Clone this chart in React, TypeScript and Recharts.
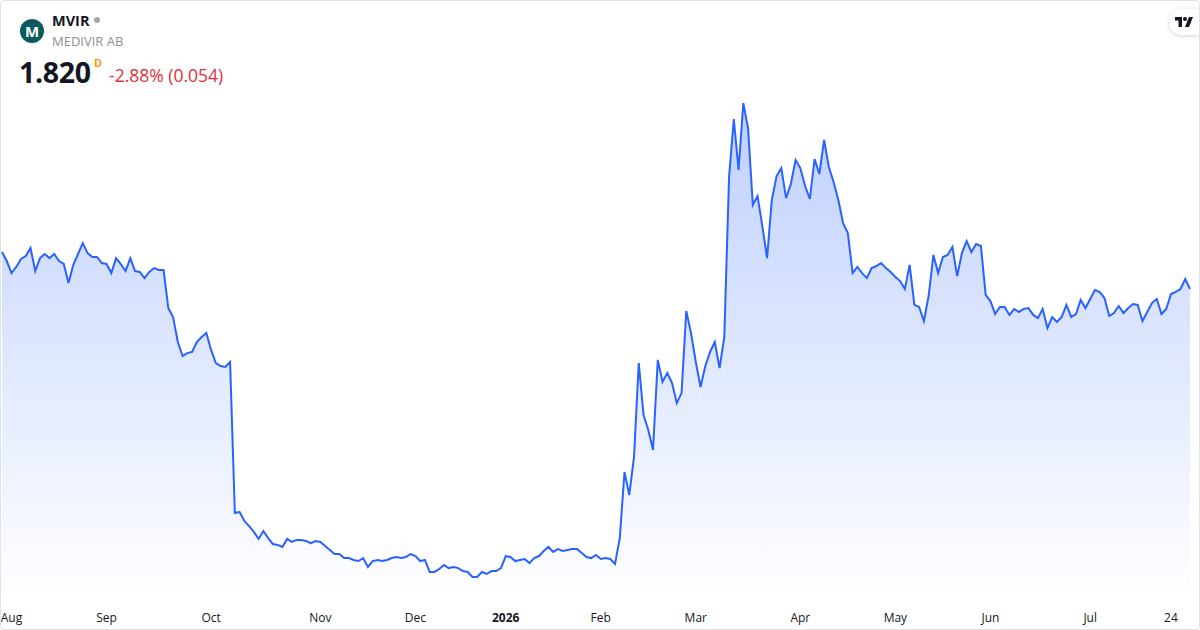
import React from 'react';
import { AreaChart, Area, XAxis, YAxis } from 'recharts';

// daily closes, MVIR (SEK), Aug 2025 → 24 Jul 2026
const closes = [
  2.020, 1.971, 1.906, 1.939, 1.982, 1.998, 2.041, 1.917, 1.987, 2.009,
  1.987, 2.009, 1.971, 1.955, 1.852, 1.950, 2.009, 2.068, 2.014, 1.993,
  1.993, 1.960, 1.955, 1.906, 1.987, 1.955, 1.917, 1.987, 1.917, 1.912,
  1.879, 1.912, 1.933, 1.923, 1.923, 1.717, 1.669, 1.534, 1.458, 1.474,
  1.480, 1.534, 1.561, 1.582, 1.491, 1.420, 1.404, 1.399, 1.426, 0.610,
  0.616, 0.567, 0.540, 0.508, 0.470, 0.513, 0.475, 0.443, 0.438, 0.427,
  0.470, 0.454, 0.465, 0.465, 0.459, 0.448, 0.459, 0.454, 0.432, 0.411,
  0.389, 0.389, 0.367, 0.367, 0.357, 0.351, 0.367, 0.319, 0.351, 0.357,
  0.351, 0.357, 0.367, 0.373, 0.367, 0.373, 0.389, 0.378, 0.351, 0.357,
  0.292, 0.292, 0.308, 0.330, 0.313, 0.319, 0.313, 0.297, 0.292, 0.265,
  0.265, 0.292, 0.281, 0.297, 0.297, 0.313, 0.378, 0.373, 0.351, 0.357,
  0.362, 0.340, 0.367, 0.378, 0.405, 0.427, 0.400, 0.416, 0.405, 0.411,
  0.416, 0.416, 0.394, 0.373, 0.367, 0.384, 0.362, 0.367, 0.362, 0.335,
  0.475, 0.832, 0.708, 0.913, 1.420, 1.140, 1.059, 0.951, 1.437, 1.318,
  1.366, 1.312, 1.204, 1.258, 1.701, 1.582, 1.426, 1.291, 1.404, 1.480,
  1.534, 1.393, 1.561, 2.425, 2.738, 2.463, 2.824, 2.689, 2.274, 2.322,
  2.160, 1.987, 2.301, 2.430, 2.473, 2.311, 2.387, 2.517, 2.473, 2.376,
  2.306, 2.522, 2.441, 2.625, 2.479, 2.398, 2.301, 2.176, 2.122, 1.906,
  1.939, 1.906, 1.879, 1.933, 1.944, 1.960, 1.933, 1.912, 1.885, 1.863,
  1.820, 1.950, 1.734, 1.723, 1.647, 1.782, 2.004, 1.906, 1.993, 2.004,
  2.047, 1.890, 2.014, 2.079, 2.020, 2.063, 2.052, 1.788, 1.755, 1.685,
  1.723, 1.723, 1.680, 1.712, 1.696, 1.712, 1.717, 1.680, 1.663, 1.712,
  1.609, 1.669, 1.642, 1.669, 1.734, 1.669, 1.685, 1.761, 1.717, 1.766,
  1.815, 1.804, 1.771, 1.674, 1.690, 1.728, 1.690, 1.717, 1.739, 1.734,
  1.647, 1.696, 1.744, 1.766, 1.685, 1.712, 1.793, 1.804, 1.820, 1.874,
  1.820,
];

// first trading day of each month (index into closes) and its label
const tickIdx = [2, 22, 44, 67, 87, 106, 126, 146, 168, 188, 208, 229, 246];
const tickLabels = ['Aug', 'Sep', 'Oct', 'Nov', 'Dec', '2026', 'Feb', 'Mar', 'Apr', 'May', 'Jun', 'Jul', '24'];
const boldTicks = ['2026'];

const symbol = 'MVIR';
const company = 'MEDIVIR AB';
const lastPrice = '1.820';
const change = '-2.88% (0.054)';

const data = closes.map((close, i) => ({ i, close }));

const FONT = '"Open Sans", "Noto Sans", sans-serif';

const MonthTick = (props: any) => {
  const { x, y, payload } = props;
  const label = tickLabels[tickIdx.indexOf(payload.value)] ?? '';
  return (
    <text
      x={x}
      y={y}
      dy={14}
      textAnchor="middle"
      fontFamily={FONT}
      fontSize={12}
      fontWeight={boldTicks.includes(label) ? 700 : 400}
      fill="#131722"
    >
      {label}
    </text>
  );
};

const TvLogo = () => (
  <div
    style={{
      position: 'absolute', top: 8, right: 0, width: 30, height: 26,
      background: '#fff', borderRadius: '13px 0 0 13px',
      boxShadow: '0 1px 4px rgba(0,0,0,0.18)',
      display: 'flex', alignItems: 'center', justifyContent: 'center',
    }}
  >
    <svg width="18" height="10" viewBox="0 0 36 20">
      <path d="M0 0h14v20H7V7H0z" fill="#131722" />
      <circle cx="20" cy="4" r="4" fill="#131722" />
      <path d="M28 0h8l-8 20h-8z" fill="#131722" />
    </svg>
  </div>
);

export default function App() {
  return (
    <div
      style={{
        position: 'absolute', left: 0, top: 0, width: 1200, height: 630,
        boxSizing: 'border-box', border: '1px solid #e0e3eb', borderRadius: 4,
        background: '#fff', overflow: 'hidden', fontFamily: FONT,
      }}
    >
      <AreaChart
        width={1200}
        height={630}
        data={data}
        margin={{ top: 0, right: 10, bottom: 0, left: 2 }}
        style={{ position: 'absolute', left: -1, top: -1 }}
      >
        <defs>
          <linearGradient id="fillBlue" x1="0" y1="0" x2="0" y2="1">
            <stop offset="0%" stopColor="#2962ff" stopOpacity={0.3} />
            <stop offset="100%" stopColor="#2962ff" stopOpacity={0.0} />
          </linearGradient>
        </defs>
        <XAxis
          dataKey="i"
          type="number"
          domain={[0, closes.length - 1]}
          ticks={tickIdx}
          tick={<MonthTick />}
          axisLine={false}
          tickLine={false}
          height={30}
          interval={0}
        />
        <YAxis hide domain={[0.1406, 3.3806]} />
        <Area
          type="linear"
          dataKey="close"
          stroke="#2962ff"
          strokeWidth={2}
          fill="url(#fillBlue)"
          fillOpacity={1}
          dot={false}
          activeDot={false}
          isAnimationActive={false}
        />
      </AreaChart>

      {/* header */}
      <div
        style={{
          position: 'absolute', left: 19, top: 18, width: 24, height: 24,
          borderRadius: '50%', background: '#0b5a5e', color: '#fff',
          fontWeight: 700, fontSize: 15, display: 'flex',
          alignItems: 'center', justifyContent: 'center',
        }}
      >
        M
      </div>
      <div style={{ position: 'absolute', left: 51, top: 10, fontSize: 14.5, fontWeight: 700, color: '#131722' }}>
        {symbol}
        <span
          style={{
            display: 'inline-block', width: 6, height: 6, borderRadius: '50%',
            background: '#a3a6af', marginLeft: 5, verticalAlign: 'middle', position: 'relative', top: -2,
          }}
        />
      </div>
      <div style={{ position: 'absolute', left: 51, top: 31, fontSize: 13, color: '#8c8f99' }}>
        {company}
      </div>
      <div style={{ position: 'absolute', left: 18, top: 52, fontSize: 28.5, fontWeight: 700, color: '#131722', letterSpacing: -0.3 }}>
        {lastPrice}
      </div>
      <div style={{ position: 'absolute', left: 93, top: 54, fontSize: 11, fontWeight: 700, color: '#ff9800' }}>
        D
      </div>
      <div style={{ position: 'absolute', left: 108, top: 62, fontSize: 17.5, color: '#e0303e' }}>
        {change}
      </div>
      <TvLogo />
    </div>
  );
}
